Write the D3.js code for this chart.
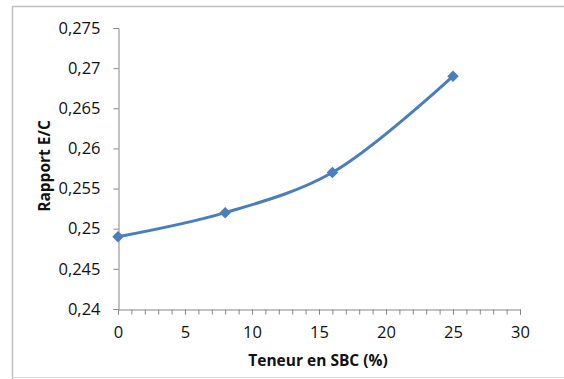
<!DOCTYPE html>
<html lang="fr">
<head>
<meta charset="UTF-8">
<title>Rapport E/C</title>
<style>
  body { margin: 0; background: #fff; }
  svg { display: block; }
  .axis-title { font-family: "Open Sans", "Liberation Sans", sans-serif; font-size: 15.5px; font-weight: bold; fill: #111; }
</style>
</head>
<body>
<svg></svg>
<script src="https://d3js.org/d3.v7.min.js"></script>
<script>
  var teneur = [0, 8, 16, 25];
  var rapport = [0.249, 0.252, 0.257, 0.269];
  var xTicks = [0, 5, 10, 15, 20, 25, 30];
  var yTicks = [0.24, 0.245, 0.25, 0.255, 0.26, 0.265, 0.27, 0.275];

  var width = 564, height = 379;
  var svg = d3.select("svg").attr("width", width).attr("height", height);

  // cadre
  svg.append("path")
    .attr("d", "M12.5,379 V6.5 H564")
    .attr("fill", "none")
    .attr("stroke", "#bfbfbf")
    .attr("stroke-width", 1.5);
  svg.append("line")
    .attr("x1", 12).attr("x2", 564).attr("y1", 377.5).attr("y2", 377.5)
    .attr("stroke", "#d9d9d9");

  var x = d3.scaleLinear().domain([0, 30]).range([118, 520]);
  var y = d3.scaleLinear().domain([0.24, 0.275]).range([309, 28]);

  var fmt = function (d) { return String(+d.toFixed(3)).replace(".", ","); };

  function styleAxis(g) {
    g.attr("font-family", "'Open Sans', 'Liberation Sans', sans-serif").attr("font-size", 16.5);
    g.selectAll("path, line").attr("stroke", "#868686");
    g.selectAll("text").attr("fill", "#111");
  }

  // axe Y
  svg.append("g").attr("transform", "translate(118.5,0)")
    .call(d3.axisLeft(y).tickValues(yTicks).tickSize(5).tickPadding(13).tickFormat(fmt))
    .call(styleAxis);

  // axe X, graduations mineures
  svg.append("g").attr("transform", "translate(0,309.5)")
    .call(d3.axisBottom(x).tickValues(d3.range(0, 31, 1)).tickSize(5).tickFormat(""))
    .call(g => g.select(".domain").remove())
    .call(styleAxis);
  svg.append("g").attr("transform", "translate(0,309.5)")
    .call(d3.axisBottom(x).tickValues(xTicks).tickSize(5).tickPadding(12).tickFormat(d3.format("d")))
    .call(styleAxis);

  // titres
  svg.append("text").attr("class", "axis-title")
    .attr("x", 318).attr("y", 366).attr("text-anchor", "middle")
    .text("Teneur en SBC (%)");
  svg.append("text").attr("class", "axis-title")
    .attr("transform", "translate(50,166) rotate(-90)").attr("text-anchor", "middle")
    .text("Rapport E/C");

  // courbe
  var pts = teneur.map(function (t, i) { return [t, rapport[i]]; });
  var line = d3.line().x(d => x(d[0])).y(d => y(d[1])).curve(d3.curveCatmullRom.alpha(0.5));
  svg.append("path").datum(pts)
    .attr("d", line)
    .attr("fill", "none")
    .attr("stroke", "#4a7ebb")
    .attr("stroke-width", 3);

  svg.selectAll(".pt").data(pts).enter().append("path")
    .attr("class", "pt")
    .attr("transform", d => "translate(" + x(d[0]) + "," + y(d[1]) + ")")
    .attr("d", d3.symbol().type(d3.symbolDiamond2).size(85))
    .attr("fill", "#4a7ebb");
</script>
</body>
</html>
